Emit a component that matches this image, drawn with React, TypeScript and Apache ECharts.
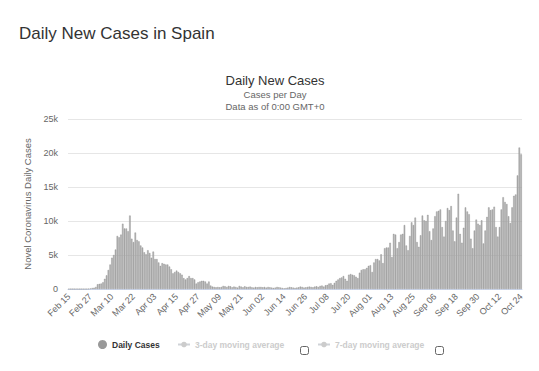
import React, { useEffect, useRef } from "react";
import * as echarts from "echarts";

const PAGE_TITLE = "Daily New Cases in Spain";
const CHART_TITLE = "Daily New Cases";
const SUBTITLE_1 = "Cases per Day";
const SUBTITLE_2 = "Data as of 0:00 GMT+0";
const Y_NAME = "Novel Coronavirus Daily Cases";
const SERIES_NAMES = ["Daily Cases", "3-day moving average", "7-day moving average"];

const MONTHS = ["Jan", "Feb", "Mar", "Apr", "May", "Jun", "Jul", "Aug", "Sep", "Oct", "Nov", "Dec"];
const START_MONTH = 1; // Feb
const START_DAY = 15;
const YEAR = 2020;

// values in thousands, per month segment
const febValues = [0, 0, 0, 0, 0, 0, 0, 0, 0, 0, 0, 0.03, 0.08, 0.15, 0.18];
const marValues = [
  0.3, 0.7, 0.75, 0.8, 1.0, 1.5, 2.0, 2.8, 3.6, 4.6,
  5.0, 5.8, 7.8, 7.6, 8.0, 9.6, 8.9, 8.9, 8.5, 10.8,
  7.4, 6.9, 8.3, 7.2, 7.0, 6.4, 6.1, 5.4, 5.1, 5.7,
  5.3,
];
const aprValues = [
  4.6, 5.5, 4.4, 4.4, 3.9, 3.4, 3.8, 3.7, 3.6, 3.6,
  3.3, 2.9, 2.3, 2.5, 2.7, 2.5, 2.3, 2.1, 1.6, 1.4,
  1.6, 1.9, 1.6, 1.6, 1.4, 0.8, 1.0, 1.1, 1.2, 1.2,
];
const mayValues = [
  1.1, 0.8, 1.1, 0.5, 0.35, 0.3, 0.25, 0.3, 0.25, 0.3,
  0.45, 0.4, 0.3, 0.45, 0.4, 0.25, 0.35, 0.3, 0.2, 0.45,
  0.35, 0.25, 0.4, 0.3, 0.3, 0.35, 0.25, 0.2, 0.3, 0.25,
  0.3,
];
const junValues = [
  0.3, 0.25, 0.3, 0.2, 0.3, 0.25, 0.2, 0.15, 0.2, 0.3,
  0.25, 0.2, 0.15, 0.1, 0.15, 0.2, 0.3, 0.25, 0.2, 0.15,
  0.2, 0.25, 0.35, 0.3, 0.2, 0.25, 0.3, 0.35, 0.3, 0.25,
];
const julValues = [
  0.35, 0.4, 0.3, 0.45, 0.5, 0.35, 0.55, 0.6, 0.8, 0.85,
  0.6, 0.9, 1.2, 1.4, 1.6, 1.7, 1.9, 1.5, 1.2, 2.1,
  2.2, 2.1, 2.0, 1.8, 1.6, 2.4, 2.8, 2.9, 2.9, 3.1,
  3.4,
];
const augValues = [
  3.5, 2.5, 3.9, 4.4, 4.4, 4.2, 5.1, 3.8, 6.0, 6.1,
  6.1, 6.8, 4.7, 8.1, 8.0, 6.0, 6.9, 8.0, 8.1, 9.4,
  6.4, 5.7, 7.8, 9.8, 9.4, 10.5, 6.9, 6.2, 7.9, 10.8,
  10.1,
];
const sepValues = [
  10.0, 10.9, 8.5, 7.2, 8.9, 10.7, 11.4, 11.5, 11.7, 9.1,
  7.7, 10.0, 11.9, 11.6, 12.2, 8.6, 7.0, 10.5, 14.0, 8.1,
  6.8, 9.0, 12.0, 11.4, 11.0, 7.4, 6.0, 8.6, 10.2, 9.6,
];
const octValues = [
  9.4, 10.1, 6.7, 8.6, 10.6, 12.0, 11.6, 11.7, 12.1, 9.1,
  7.7, 9.1, 11.7, 13.5, 12.8, 12.5, 10.7, 9.7, 12.0, 13.7,
  13.9, 16.7, 20.8, 19.8,
];

const dailyK = [
  ...febValues, ...marValues, ...aprValues, ...mayValues, ...junValues,
  ...julValues, ...augValues, ...sepValues, ...octValues,
];
const dailyCases = dailyK.map((v) => Math.round(v * 1000));

const categories = dailyCases.map((_, i) => {
  const d = new Date(Date.UTC(YEAR, START_MONTH, START_DAY + i));
  const day = d.getUTCDate();
  return MONTHS[d.getUTCMonth()] + " " + (day < 10 ? "0" + day : String(day));
});

function movingAverage(arr: number[], n: number) {
  return arr.map((_, i) => {
    if (i < n - 1) return null;
    let s = 0;
    for (let k = i - n + 1; k <= i; k++) s += arr[k];
    return Math.round(s / n);
  });
}

const FONT = "'Liberation Sans', Arial, Helvetica, sans-serif";

export default function App() {
  const ref = useRef<HTMLDivElement>(null);
  useEffect(() => {
    if (!ref.current) return;
    const chart = echarts.init(ref.current, null, { renderer: "svg" });
    const legendText = { fontSize: 8.5, fontWeight: "bold", color: "#333", fontFamily: FONT };
    chart.setOption({
      animation: false,
      backgroundColor: "#ffffff",
      textStyle: { fontFamily: FONT },
      grid: { left: 68, right: 17, top: 119, bottom: 82, containLabel: false },
      legend: [
        {
          data: [{ name: SERIES_NAMES[0], icon: "circle" }],
          left: 93,
          top: 335,
          itemWidth: 9,
          itemHeight: 9,
          itemGap: 0,
          itemStyle: { color: "#999", borderWidth: 0 },
          textStyle: legendText,
          selectedMode: false,
        },
        {
          data: [SERIES_NAMES[1]],
          left: 172,
          top: 335,
          itemWidth: 12,
          itemHeight: 7,
          inactiveColor: "#cccccc",
          inactiveBorderColor: "#cccccc",
          textStyle: legendText,
          selected: { [SERIES_NAMES[1]]: false, [SERIES_NAMES[2]]: false },
        },
        {
          data: [SERIES_NAMES[2]],
          left: 312,
          top: 335,
          itemWidth: 12,
          itemHeight: 7,
          inactiveColor: "#cccccc",
          inactiveBorderColor: "#cccccc",
          textStyle: legendText,
          selected: { [SERIES_NAMES[1]]: false, [SERIES_NAMES[2]]: false },
        },
      ],
      graphic: [
        {
          type: "text",
          left: 19,
          top: 25,
          style: { text: PAGE_TITLE, fontSize: 17, fill: "#333", fontFamily: FONT },
        },
        {
          type: "text",
          x: 275,
          y: 80,
          style: {
            text: CHART_TITLE, fontSize: 13, fill: "#333", fontFamily: FONT,
            align: "center", verticalAlign: "middle",
          },
        },
        {
          type: "text",
          x: 275,
          y: 94,
          style: {
            text: SUBTITLE_1, fontSize: 9.5, fill: "#666", fontFamily: FONT,
            align: "center", verticalAlign: "middle",
          },
        },
        {
          type: "text",
          x: 275,
          y: 106,
          style: {
            text: SUBTITLE_2, fontSize: 9.5, fill: "#666", fontFamily: FONT,
            align: "center", verticalAlign: "middle",
          },
        },
        {
          type: "rect",
          shape: { x: 300.5, y: 346.5, width: 8, height: 8, r: 2 },
          style: { fill: "#fff", stroke: "#666", lineWidth: 1 },
        },
        {
          type: "rect",
          shape: { x: 435.5, y: 346.5, width: 8, height: 8, r: 2 },
          style: { fill: "#fff", stroke: "#666", lineWidth: 1 },
        },
      ],
      xAxis: {
        type: "category",
        data: categories,
        boundaryGap: true,
        axisLine: { lineStyle: { color: "#ccd6eb" } },
        axisTick: { show: false },
        axisLabel: {
          interval: 11,
          rotate: 45,
          fontSize: 9,
          color: "#666",
          margin: 6,
          fontFamily: FONT,
        },
      },
      yAxis: {
        type: "value",
        min: 0,
        max: 25000,
        interval: 5000,
        name: Y_NAME,
        nameLocation: "middle",
        nameGap: 32,
        nameRotate: 90,
        nameTextStyle: { fontSize: 9.5, color: "#666", fontFamily: FONT },
        axisLine: { show: false },
        axisTick: { show: false },
        splitLine: { lineStyle: { color: "#e6e6e6" } },
        axisLabel: {
          fontSize: 9,
          color: "#666",
          margin: 10,
          fontFamily: FONT,
          formatter: (v: number) => (v === 0 ? "0" : v / 1000 + "k"),
        },
      },
      series: [
        {
          name: SERIES_NAMES[0],
          type: "bar",
          data: dailyCases,
          barCategoryGap: "18%",
          itemStyle: { color: "#b3b3b3", borderColor: "#8a8a8a", borderWidth: 0.4 },
        },
        {
          name: SERIES_NAMES[1],
          type: "line",
          data: movingAverage(dailyCases, 3),
          symbol: "circle",
          symbolSize: 4,
          itemStyle: { color: "#999" },
          lineStyle: { color: "#999", width: 1 },
        },
        {
          name: SERIES_NAMES[2],
          type: "line",
          data: movingAverage(dailyCases, 7),
          symbol: "circle",
          symbolSize: 4,
          itemStyle: { color: "#999" },
          lineStyle: { color: "#999", width: 1 },
        },
      ],
    });
    return () => chart.dispose();
  }, []);
  return (
    <div
      ref={ref}
      style={{ position: "fixed", left: 0, top: 0, width: 539, height: 371, background: "#fff" }}
    />
  );
}
